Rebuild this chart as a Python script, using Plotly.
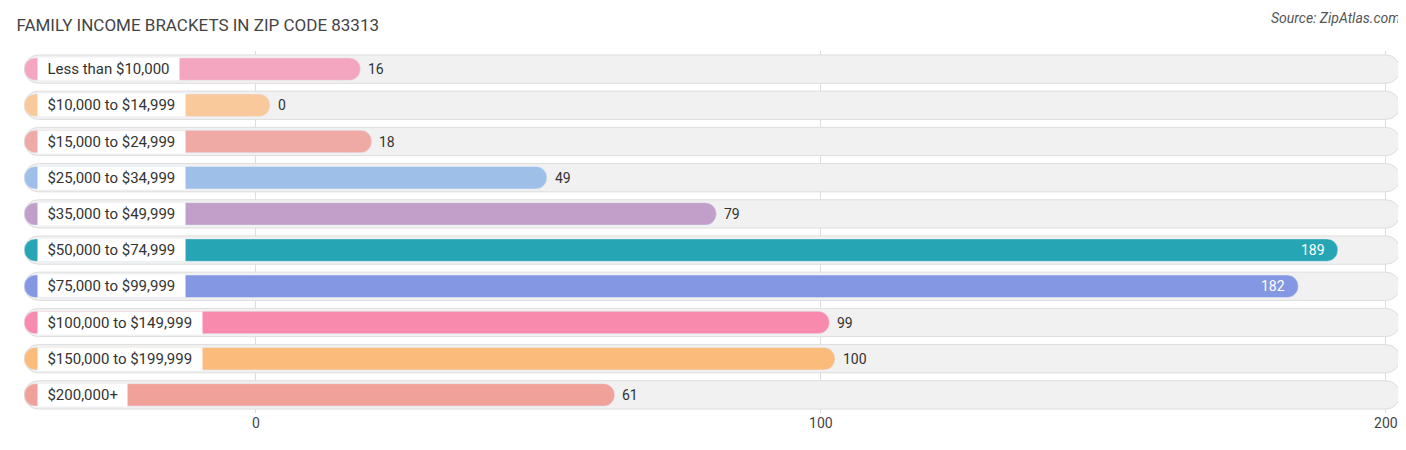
import plotly.graph_objects as go

categories = ["Less than $10,000", "$10,000 to $14,999", "$15,000 to $24,999", "$25,000 to $34,999",
              "$35,000 to $49,999", "$50,000 to $74,999", "$75,000 to $99,999", "$100,000 to $149,999",
              "$150,000 to $199,999", "$200,000+"]
values = [16, 0, 18, 49, 79, 189, 182, 99, 100, 61]
colors = ["#f4a6c0", "#f9c99b", "#f0aaa5", "#9dbfe8", "#c29fc9", "#26a6b5", "#8497e2", "#f78aad",
          "#fbbb7a", "#f0a29a"]

left = -41
pad = 2.5
fig = go.Figure()
fig.add_trace(go.Bar(y=categories, x=[200 + 2.5 - left] * len(categories), base=left, orientation="h",
                     width=0.78, marker=dict(color="#f1f1f1", line=dict(color="#dddddd", width=1),
                                             cornerradius=14), hoverinfo="skip"))
fig.add_trace(go.Bar(y=categories, x=[v + pad - left for v in values], base=left, orientation="h",
                     width=0.62, marker=dict(color=colors, cornerradius=11)))

for c, v in zip(categories, values):
    fig.add_annotation(x=left + 2.3, y=c, text="  " + c + "  ", xanchor="left", showarrow=False,
                       bgcolor="white", borderpad=2, font=dict(size=15, color="#333"))
    if v > 150:
        fig.add_annotation(x=v + pad - 2, y=c, text=str(v), xanchor="right", showarrow=False,
                           font=dict(size=14, color="white"))
    else:
        fig.add_annotation(x=v + pad + 1, y=c, text=str(v), xanchor="left", showarrow=False,
                           font=dict(size=14, color="#333"))

fig.update_layout(
    width=1406, height=450, barmode="overlay", showlegend=False,
    plot_bgcolor="white", paper_bgcolor="white",
    margin=dict(l=5, r=5, t=43, b=45),
    font=dict(family="Roboto", color="#444"),
    title=dict(text="FAMILY INCOME BRACKETS IN ZIP CODE 83313", x=0.006, y=0.975,
               font=dict(size=17, color="#444")),
    annotations=list(fig.layout.annotations) + [
        dict(text="<i>Source: ZipAtlas.com</i>", xref="paper", yref="paper", x=0.995, y=1.12,
             xanchor="right", showarrow=False, font=dict(size=14, color="#555"))],
)
fig.update_xaxes(range=[-43.0, 204.1], tickvals=[0, 100, 200], showgrid=True, gridcolor="#dddddd",
                 zeroline=False, tickfont=dict(size=14, color="#444"))
fig.update_yaxes(autorange="reversed", showticklabels=False, showgrid=False)
fig.write_html("out.html")
